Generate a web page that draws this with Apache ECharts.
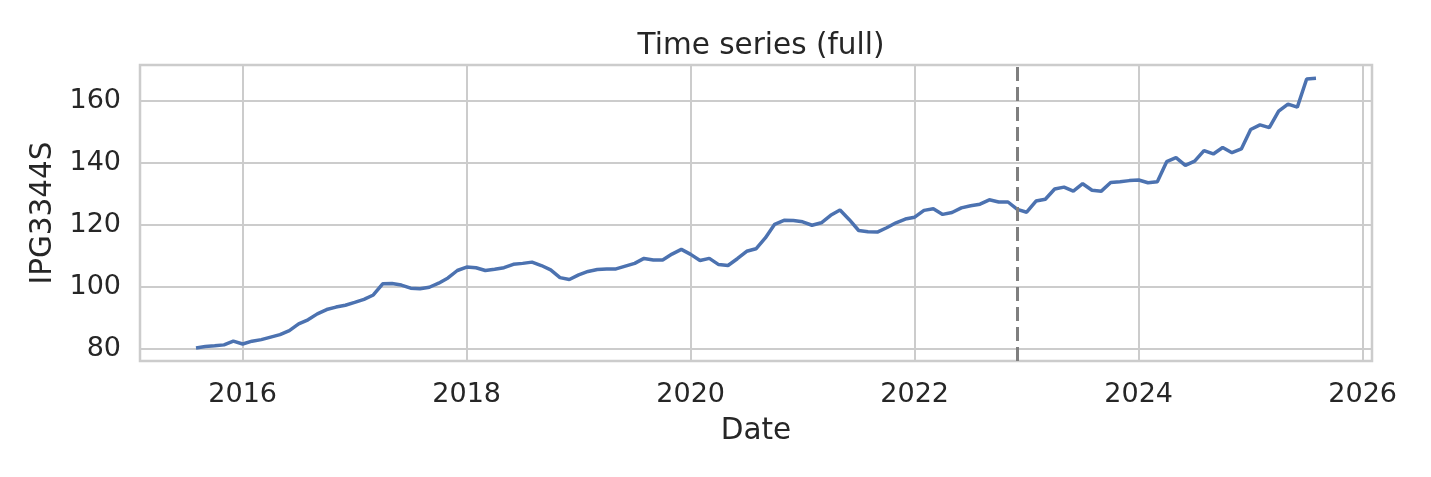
<!DOCTYPE html>
<html>
<head>
<meta charset="utf-8">
<script src="https://cdn.jsdelivr.net/npm/echarts@6/dist/echarts.min.js"></script>
<style>
  html, body { margin: 0; padding: 0; background: #fff; }
</style>
</head>
<body>
<div id="chart" style="width: 1431px; height: 477px"></div>
<script>
// monthly series, first point 2015-08, one value per month
const startYear = 2015;
const startMonth = 8;
const values = [
  80.3, 80.75, 81.0, 81.3, 82.5, 81.6, 82.5, 83.0, 83.8, 84.6,
  85.9, 88.1, 89.4, 91.3, 92.7, 93.5, 94.1, 95.0, 96.0, 97.4,
  101.0, 101.1, 100.6, 99.6, 99.4, 99.9, 101.2, 102.9, 105.3, 106.4,
  106.2, 105.3, 105.7, 106.2, 107.3, 107.6, 108.0, 106.9, 105.5, 103.0,
  102.4, 103.9, 105.0, 105.6, 105.8, 105.8, 106.7, 107.6, 109.2, 108.7,
  108.7, 110.6, 112.1, 110.5, 108.5, 109.2, 107.2, 106.9, 109.1, 111.5,
  112.3, 115.8, 120.2, 121.5, 121.4, 121.0, 119.9, 120.7, 123.1, 124.8,
  121.7, 118.2, 117.8, 117.7, 119.1, 120.7, 121.9, 122.5, 124.7, 125.2,
  123.4, 124.0, 125.5, 126.2, 126.7, 128.1, 127.4, 127.4, 125.0, 124.1,
  127.7, 128.3, 131.6, 132.2, 130.9, 133.3, 131.2, 130.9, 133.7, 133.9,
  134.3, 134.5, 133.6, 133.9, 140.4, 141.7, 139.2, 140.6, 144.0, 142.9,
  145.0, 143.3, 144.5, 150.8, 152.3, 151.4, 156.7, 159.0, 158.0, 167.1,
  167.3
];
const xTicks = [2016, 2018, 2020, 2022, 2024, 2026];
const yTicks = [80, 100, 120, 140, 160];
const splitDate = 2022 + 11 / 12; // 2022-12

// x as fractional year
const points = values.map((v, i) => {
  const m = startMonth - 1 + i;
  return [startYear + m / 12, v];
});

const textColor = '#262626';
const font = 'DejaVu Sans';

const chart = echarts.init(document.getElementById('chart'));
const option = {
  animation: false,
  backgroundColor: '#ffffff',
  title: {
    text: 'Time series (full)',
    left: 756,
    textAlign: 'center',
    top: 26,
    textStyle: { fontFamily: font, fontSize: 29.5, fontWeight: 'normal', color: textColor }
  },
  grid: {
    left: 140,
    right: 59,
    top: 65,
    bottom: 116,
    show: true,
    borderColor: '#cccccc',
    borderWidth: 2.5,
    containLabel: false
  },
  xAxis: {
    type: 'value',
    min: 2015 + 1 / 12,
    max: 2026 + 1 / 12,
    name: 'Date',
    nameLocation: 'middle',
    nameGap: 55,
    nameTextStyle: { fontFamily: font, fontSize: 29.5, color: textColor },
    axisLine: { show: false },
    axisTick: { show: false, customValues: xTicks },
    axisLabel: {
      customValues: xTicks,
      margin: 20,
      fontFamily: font,
      fontSize: 27,
      color: textColor,
      formatter: (v) => String(Math.round(v))
    },
    splitLine: { show: true, lineStyle: { color: '#cccccc', width: 2 } }
  },
  yAxis: {
    type: 'value',
    min: 76.1,
    max: 171.6,
    name: 'IPG3344S',
    nameLocation: 'middle',
    nameGap: 75,
    nameTextStyle: { fontFamily: font, fontSize: 29.5, color: textColor },
    axisLine: { show: false },
    axisTick: { show: false, customValues: yTicks },
    axisLabel: {
      customValues: yTicks,
      margin: 19,
      fontFamily: font,
      fontSize: 27,
      color: textColor
    },
    splitLine: { show: true, lineStyle: { color: '#cccccc', width: 2 } }
  },
  series: [
    {
      type: 'line',
      data: points,
      symbol: 'none',
      lineStyle: { color: '#4c72b0', width: 3.5 },
      markLine: {
        silent: true,
        symbol: 'none',
        label: { show: false },
        lineStyle: { color: '#7f7f7f', width: 3, type: [14, 6] },
        data: [{ xAxis: splitDate }]
      }
    }
  ]
};
chart.setOption(option);
</script>
</body>
</html>
